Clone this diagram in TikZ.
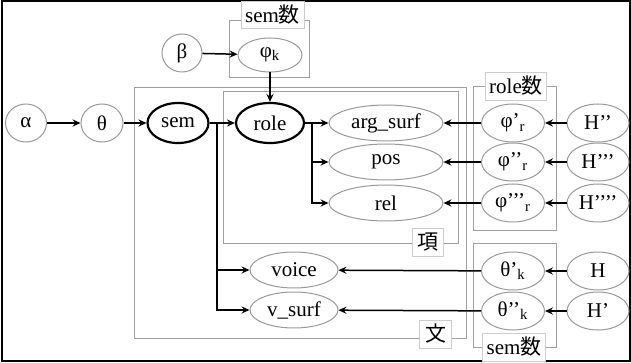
\documentclass[tikz,border=0pt]{standalone}
\usepackage{fontspec}
\setmainfont{Liberation Serif}
\newfontfamily\jp{Noto Sans CJK JP}
\usetikzlibrary{arrows.meta,shapes.geometric}

\begin{document}
\begin{tikzpicture}[
    x=0.5pt, y=-0.5pt,
    >={Stealth[length=4pt,width=3.6pt,inset=1.4pt]},
    rv/.style={draw=gray!80, ellipse, line width=0.5pt, inner sep=0pt, font=\fontsize{10.5}{12}\selectfont},
    latent/.style={rv, draw=black, line width=1.1pt},
    plate/.style={draw=gray!75, line width=0.5pt},
    platelabel/.style={draw=gray!40, fill=white, inner sep=2pt, font=\fontsize{10.5}{12}\selectfont},
    edge/.style={->, line width=0.75pt}
]
  \useasboundingbox (0,0) rectangle (631,363);
  \draw[line width=1pt] (1.5,1.5) rectangle (629.5,361);

  % Plates
  \draw[plate] (229,21) rectangle (309,78);
  \draw[plate] (134,88) rectangle (466,338);
  \draw[plate] (223,92) rectangle (458,243);
  \draw[plate] (473,87) rectangle (556,231);
  \draw[plate] (473,243) rectangle (556,347);

  % Hyperparameters and topics
  \node[rv, minimum width=20.5pt, minimum height=19pt] (alpha) at (26,123) {α};
  \node[rv, minimum width=21pt, minimum height=19pt] (theta) at (102,123) {θ};
  \node[rv, minimum width=20pt, minimum height=19pt] (beta) at (182,53) {β};
  \node[rv, minimum width=32pt, minimum height=17pt] (phik) at (270,55) {φ\textsubscript{k}};
  \node[latent, minimum width=30.5pt, minimum height=20pt] (sem) at (178,123) {sem};
  \node[latent, minimum width=34pt, minimum height=20pt] (role) at (270,123) {role};

  % Observed features
  \node[rv, minimum width=57pt, minimum height=18pt] (argsurf) at (386,123) {arg\_surf};
  \node[rv, minimum width=57pt, minimum height=18pt] (pos) at (386,162) {pos};
  \node[rv, minimum width=57pt, minimum height=18pt] (rel) at (386,203) {rel};
  \node[rv, minimum width=44pt, minimum height=18pt] (voice) at (294,270) {voice};
  \node[rv, minimum width=44pt, minimum height=18pt] (vsurf) at (294,310) {v\_surf};

  % Emission distributions
  \node[rv, minimum width=31.5pt, minimum height=19pt] (phi1) at (513,123) {φ’\textsubscript{r}};
  \node[rv, minimum width=31.5pt, minimum height=19pt] (phi2) at (513,162) {φ’’\textsubscript{r}};
  \node[rv, minimum width=31.5pt, minimum height=19pt] (phi3) at (513,203) {φ’’’\textsubscript{r}};
  \node[rv, minimum width=31.5pt, minimum height=19pt] (theta1) at (513,271) {θ’\textsubscript{k}};
  \node[rv, minimum width=31.5pt, minimum height=19pt] (theta2) at (513,311) {θ’’\textsubscript{k}};

  % Priors
  \node[rv, minimum width=31pt, minimum height=19pt] (h2) at (598,123) {H’’};
  \node[rv, minimum width=31pt, minimum height=19pt] (h3) at (598,162) {H’’’};
  \node[rv, minimum width=31pt, minimum height=19pt] (h4) at (598,203) {H’’’’};
  \node[rv, minimum width=31pt, minimum height=19pt] (h0) at (598,271) {H};
  \node[rv, minimum width=31pt, minimum height=19pt] (h1) at (598,311) {H’};

  % Plate labels
  \node[platelabel, minimum width=30.5pt, minimum height=13pt] (lsemtop) at (272.5,15) {sem{\jp 数}};
  \node[platelabel, minimum width=16pt, minimum height=14pt] (lbun) at (435.5,334) {\jp 文};
  \node[platelabel, minimum width=15.5pt, minimum height=14pt] (lkou) at (427.5,242) {\jp 項};
  \node[platelabel, minimum width=30pt, minimum height=14pt] (lrole) at (516,86) {role{\jp 数}};
  \node[platelabel, minimum width=31pt, minimum height=14pt] (lsembot) at (514,347) {sem{\jp 数}};

  % Edges
  \coordinate (semfork) at (217,123);
  \coordinate (rolefork) at (312,123);
  \draw[edge] (alpha) -- (theta);
  \draw[edge] (theta) -- (sem);
  \draw[edge] (sem) -- (role);
  \draw[edge] (beta) -- (phik);
  \draw[edge] (phik) -- (role);
  \draw[edge] (role) -- (argsurf);
  \draw[edge] (rolefork) |- (pos);
  \draw[edge] (rolefork) |- (rel);
  \draw[edge] (semfork) |- (voice);
  \draw[edge] (semfork) |- (vsurf);
  \draw[edge] (phi1) -- (argsurf);
  \draw[edge] (phi2) -- (pos);
  \draw[edge] (phi3) -- (rel);
  \draw[edge] (theta1) -- (voice);
  \draw[edge] (theta2) -- (vsurf);
  \draw[edge] (h2) -- (phi1);
  \draw[edge] (h3) -- (phi2);
  \draw[edge] (h4) -- (phi3);
  \draw[edge] (h0) -- (theta1);
  \draw[edge] (h1) -- (theta2);
\end{tikzpicture}
\end{document}
